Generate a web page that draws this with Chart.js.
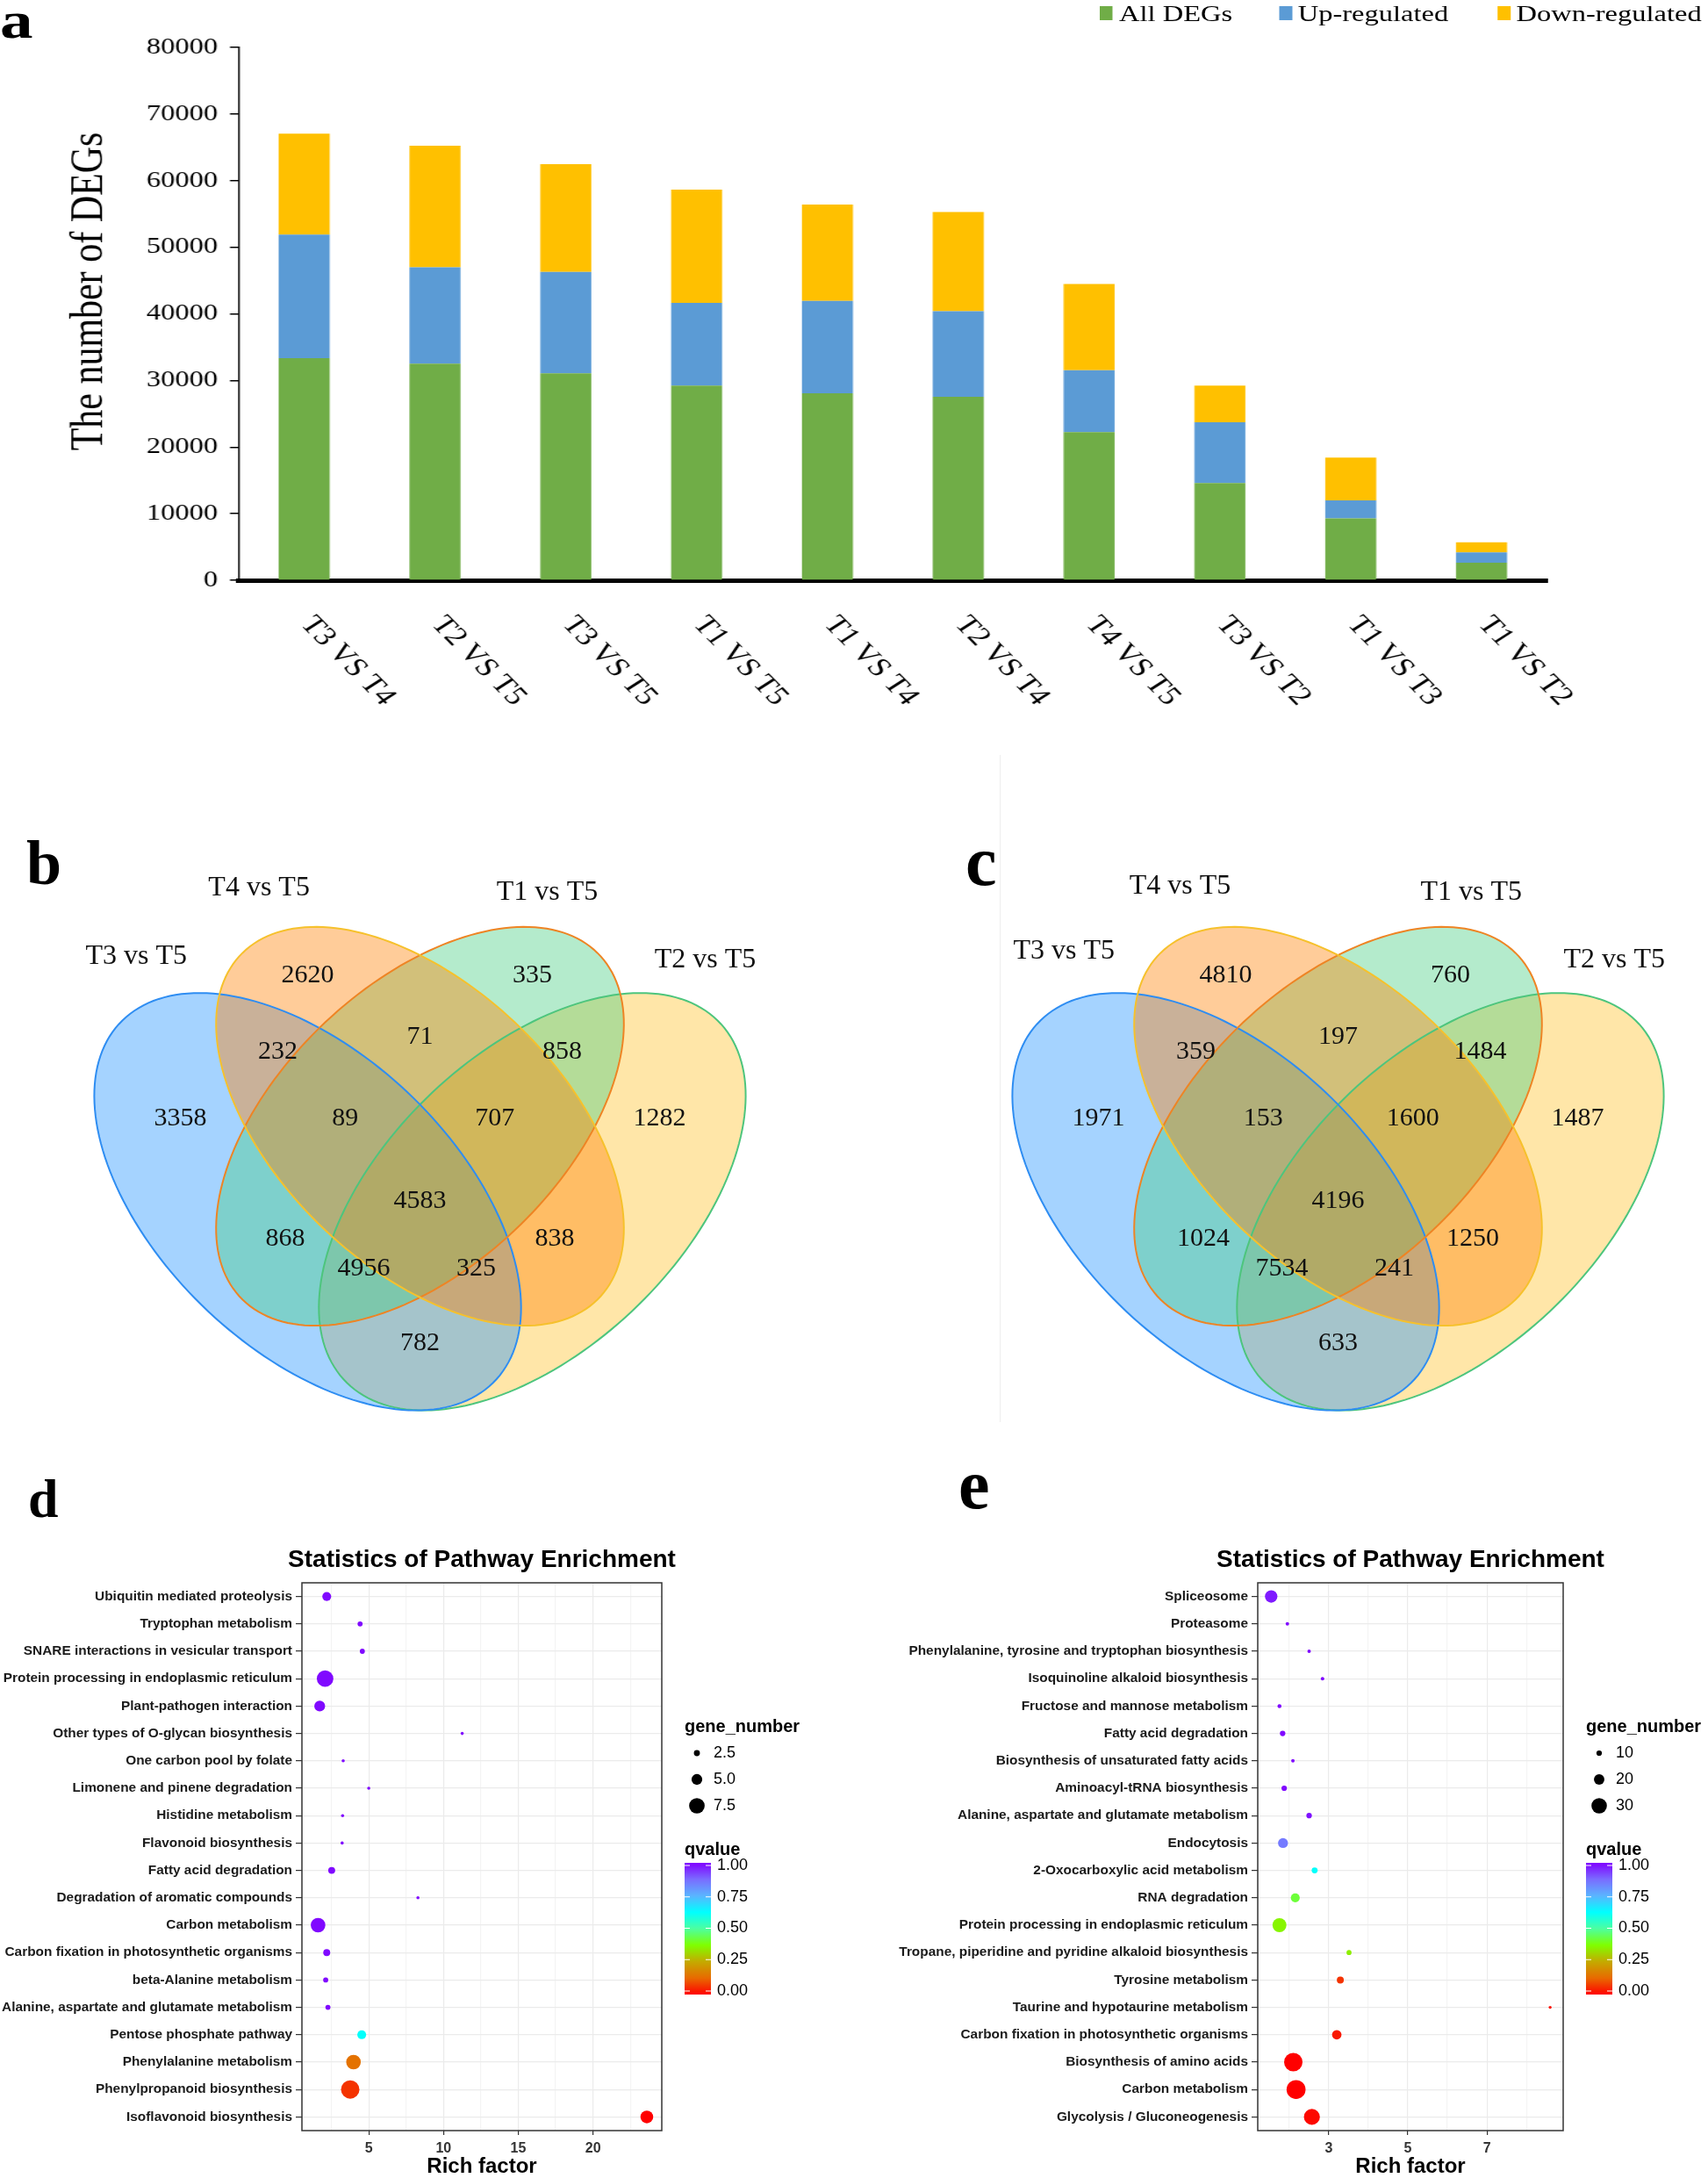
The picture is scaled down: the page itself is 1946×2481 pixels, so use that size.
<!DOCTYPE html>
<html>
<head>
<meta charset="utf-8">
<title>DEGs overview</title>
<script src="https://cdn.jsdelivr.net/npm/chart.js@4.4.0/dist/chart.umd.min.js"></script>
<style>
    body { margin: 0; width: 1946px; height: 2481px; position: relative; overflow: hidden; background: #fff; }
    canvas { position: absolute; }
    .letter { position: absolute; font-family: "Liberation Serif", serif; font-weight: bold; line-height: 1; color: #000; }
    .lg { position: absolute; font-family: "Liberation Serif", serif; font-size: 26px; line-height: 30px; color: #000; white-space: nowrap; }
    .box { position: absolute; width: 12px; height: 16px; }
</style>
</head>
<body>

<!-- panel a is an Excel chart that was stretched sideways, so the whole block is stretched too -->
<div id="panelA" style="position:absolute; left:0; top:0; width:1557px; height:860px; transform:scaleX(1.25); transform-origin:0 0;">
    <canvas id="chartA" width="1557" height="860" style="left:0; top:0"></canvas>
    <div class="letter" style="left:0; top:-7px; font-size:60px">a</div>
    <div class="box" style="left:1002px; top:7px; background:#70AD47"></div>
    <div class="lg" style="left:1020px; top:1px">All DEGs</div>
    <div class="box" style="left:1166px; top:7px; background:#5B9BD5"></div>
    <div class="lg" style="left:1183px; top:1px">Up-regulated</div>
    <div class="box" style="left:1365px; top:7px; background:#FFC000"></div>
    <div class="lg" style="left:1382px; top:1px">Down-regulated</div>
</div>

<div style="position:absolute; left:1139px; top:860px; width:1px; height:760px; background:#eeeeee"></div>

<canvas id="vennB" width="853" height="834" style="left:52px; top:931px"></canvas>
<canvas id="vennC" width="853" height="834" style="left:1098px; top:931px"></canvas>
<div class="letter" style="left:30px; top:947px; font-size:72px">b</div>
<div class="letter" style="left:1100px; top:941px; font-size:80px">c</div>

<canvas id="bubbleD" width="973" height="741" style="left:0; top:1740px"></canvas>
<canvas id="bubbleE" width="973" height="741" style="left:973px; top:1740px"></canvas>
<div class="letter" style="left:32px; top:1676px; font-size:62px">d</div>
<div class="letter" style="left:1092px; top:1651px; font-size:80px">e</div>

<script>
// ---------- panel a: number of DEGs per comparison ----------
const comparisons = ['T3 VS T4', 'T2 VS T5', 'T3 VS T5', 'T1 VS T5', 'T1 VS T4',
                     'T2 VS T4', 'T4 VS T5', 'T3 VS T2', 'T1 VS T3', 'T1 VS T2'];
const allDEGs = [33350, 32530, 31060, 29240, 28060, 27530, 22240, 14590, 9290, 2650];
const upRegulated = [18530, 14470, 15240, 12410, 13880, 12880, 9290, 9120, 2710, 1530];
const downRegulated = [15180, 18240, 16180, 17000, 14470, 14880, 12940, 5530, 6410, 1530];
const degTicks = [0, 10000, 20000, 30000, 40000, 50000, 60000, 70000, 80000];

// ---------- panels b, c: Venn counts ----------
const vennSets = ['T3 vs T5', 'T4 vs T5', 'T1 vs T5', 'T2 vs T5'];
const vennRegions = ['T3', 'T4', 'T1', 'T2', 'T3+T4', 'T4+T1', 'T1+T2', 'T3+T4+T1', 'T4+T1+T2',
                     'T3+T4+T1+T2', 'T3+T1', 'T4+T2', 'T3+T1+T2', 'T3+T4+T2', 'T3+T2'];
const vennCountsB = [3358, 2620, 335, 1282, 232, 71, 858, 89, 707, 4583, 868, 838, 4956, 325, 782];
const vennCountsC = [1971, 4810, 760, 1487, 359, 197, 1484, 153, 1600, 4196, 1024, 1250, 7534, 241, 633];

// ---------- panel d: KEGG enrichment ----------
const pathwaysD = ['Ubiquitin mediated proteolysis', 'Tryptophan metabolism', 'SNARE interactions in vesicular transport',
    'Protein processing in endoplasmic reticulum', 'Plant-pathogen interaction', 'Other types of O-glycan biosynthesis',
    'One carbon pool by folate', 'Limonene and pinene degradation', 'Histidine metabolism', 'Flavonoid biosynthesis',
    'Fatty acid degradation', 'Degradation of aromatic compounds', 'Carbon metabolism',
    'Carbon fixation in photosynthetic organisms', 'beta-Alanine metabolism',
    'Alanine, aspartate and glutamate metabolism', 'Pentose phosphate pathway', 'Phenylalanine metabolism',
    'Phenylpropanoid biosynthesis', 'Isoflavonoid biosynthesis'];
const richD = [2.19, 4.42, 4.57, 2.08, 1.72, 11.25, 3.29, 5.0, 3.25, 3.22, 2.52, 8.29, 1.61, 2.19, 2.12, 2.27, 4.53, 3.98, 3.76, 23.6];
const genesD = [4, 2, 2, 8, 5, 1, 1, 1, 1, 1, 3, 1, 7, 3, 2, 2, 4, 7, 9, 6];
const qvalueD = [0.99, 0.99, 0.99, 0.99, 0.99, 0.99, 0.99, 0.99, 0.99, 0.99, 0.99, 0.99, 0.99, 0.99, 0.99, 0.99, 0.62, 0.14, 0.06, 0.0];
const richTicksD = [5, 10, 15, 20];
const geneLegendD = [2.5, 5.0, 7.5];

// ---------- panel e ----------
const pathwaysE = ['Spliceosome', 'Proteasome', 'Phenylalanine, tyrosine and tryptophan biosynthesis',
    'Isoquinoline alkaloid biosynthesis', 'Fructose and mannose metabolism', 'Fatty acid degradation',
    'Biosynthesis of unsaturated fatty acids', 'Aminoacyl-tRNA biosynthesis',
    'Alanine, aspartate and glutamate metabolism', 'Endocytosis', '2-Oxocarboxylic acid metabolism',
    'RNA degradation', 'Protein processing in endoplasmic reticulum',
    'Tropane, piperidine and pyridine alkaloid biosynthesis', 'Tyrosine metabolism',
    'Taurine and hypotaurine metabolism', 'Carbon fixation in photosynthetic organisms',
    'Biosynthesis of amino acids', 'Carbon metabolism', 'Glycolysis / Gluconeogenesis'];
const richE = [1.54, 1.95, 2.50, 2.84, 1.75, 1.83, 2.09, 1.87, 2.50, 1.84, 2.64, 2.15, 1.75, 3.51, 3.29, 8.6, 3.20, 2.10, 2.17, 2.57];
const genesE = [24, 6, 6, 6, 7, 10, 6, 10, 10, 19, 11, 17, 27, 9, 13, 5, 18, 36, 37, 31];
const qvalueE = [0.97, 0.99, 0.99, 0.99, 0.99, 0.99, 0.99, 0.99, 0.98, 0.85, 0.62, 0.42, 0.36, 0.35, 0.06, 0.02, 0.03, 0.0, 0.0, 0.01];
const richTicksE = [3, 5, 7];
const geneLegendE = [10, 20, 30];
const qTicks = [0, 0.25, 0.5, 0.75, 1];

Chart.defaults.font.family = '"Liberation Sans", Arial, sans-serif';
Chart.defaults.animation = false;

// ================= panel a =================
const stretchA = 1.25;
const aLabels = {
    id: 'aLabels',
    afterDraw(chart) {
        const ctx = chart.ctx;
        const xs = chart.scales.x;
        const area = chart.chartArea;
        ctx.save();
        ctx.fillStyle = '#000';
        // rotated category labels, reading downwards from each bar
        ctx.font = '30px "Liberation Serif"';
        ctx.textAlign = 'left';
        ctx.textBaseline = 'middle';
        comparisons.forEach((lab, i) => {
            ctx.save();
            ctx.translate(xs.getPixelForValue(i) + 2, area.bottom + 45);
            ctx.rotate(Math.atan(stretchA));
            ctx.fillText(lab, 0, 0);
            ctx.restore();
        });
        // y title
        ctx.font = '42px "Liberation Serif"';
        ctx.textAlign = 'center';
        ctx.translate(82, 332);
        ctx.rotate(-Math.PI / 2);
        ctx.fillText('The number of DEGs', 0, 0);
        ctx.restore();
    }
};

new Chart(document.getElementById('chartA'), {
    type: 'bar',
    data: {
        labels: comparisons,
        datasets: [
            { label: 'All DEGs', data: allDEGs, backgroundColor: '#70AD47' },
            { label: 'Up-regulated', data: upRegulated, backgroundColor: '#5B9BD5' },
            { label: 'Down-regulated', data: downRegulated, backgroundColor: '#FFC000' }
        ]
    },
    options: {
        responsive: false,
        layout: { padding: { left: 0, right: 147, top: 54, bottom: 0 } },
        datasets: { bar: { barPercentage: 0.39, categoryPercentage: 1.0, borderWidth: 0 } },
        plugins: { legend: { display: false }, tooltip: { enabled: false } },
        scales: {
            x: {
                stacked: true,
                afterFit: (s) => { s.height = 199; },
                ticks: { display: false },
                grid: { display: false },
                border: { color: '#000', width: 5 }
            },
            y: {
                stacked: true,
                min: 0,
                max: 80000,
                afterFit: (s) => { s.width = 217.6; },
                afterBuildTicks: (s) => { s.ticks = degTicks.map(v => ({ value: v })); },
                ticks: {
                    font: { family: '"Liberation Serif"', size: 26 }, color: '#000', padding: 11,
                    callback: (v) => String(v)
                },
                grid: { display: true, drawOnChartArea: false, drawTicks: true, tickLength: 8, color: '#000', lineWidth: 1.5 },
                border: { color: '#000', width: 1.5 }
            }
        }
    },
    plugins: [aLabels]
});

// ================= panels b and c =================
// ellipse geometry in the 0..1 Venn space; painted in this order (T2, T3, T1, T4)
const vennShapes = [
    { set: 3, cx: 0.65, cy: 0.475, a: 0.35, b: 0.20, rot: 45, fill: 'rgba(255,193,37,0.4)', stroke: '#4DC57D' },
    { set: 0, cx: 0.35, cy: 0.475, a: 0.35, b: 0.20, rot: 135, fill: 'rgba(30,144,255,0.4)', stroke: '#2E8DF2' },
    { set: 2, cx: 0.50, cy: 0.578, a: 0.335, b: 0.19, rot: 45, fill: 'rgba(67,205,128,0.4)', stroke: '#EE8424' },
    { set: 1, cx: 0.50, cy: 0.578, a: 0.335, b: 0.19, rot: 135, fill: 'rgba(255,127,0,0.4)', stroke: '#F6C12C' }
];
const regionSpots = {
    'T3': [0.18, 0.588], 'T4': [0.35, 0.784], 'T1': [0.65, 0.784], 'T2': [0.82, 0.588],
    'T3+T4': [0.31, 0.68], 'T4+T1': [0.5, 0.70], 'T1+T2': [0.69, 0.68],
    'T3+T4+T1': [0.40, 0.588], 'T4+T1+T2': [0.60, 0.588], 'T3+T4+T1+T2': [0.5, 0.476],
    'T3+T1': [0.32, 0.424], 'T4+T2': [0.68, 0.424], 'T3+T1+T2': [0.425, 0.384],
    'T3+T4+T2': [0.575, 0.384], 'T3+T2': [0.5, 0.282]
};
const setSpotsB = [[0.121, 0.81], [0.285, 0.903], [0.670, 0.897], [0.881, 0.805]];
const setSpotsC = [[0.134, 0.817], [0.289, 0.906], [0.678, 0.897], [0.869, 0.805]];

function ellipsePath(ctx, xs, ys, e) {
    const r = e.rot * Math.PI / 180;
    ctx.beginPath();
    for (let k = 0; k <= 180; k++) {
        const t = k / 180 * 2 * Math.PI;
        const x = e.cx + e.a * Math.cos(t) * Math.cos(r) - e.b * Math.sin(t) * Math.sin(r);
        const y = e.cy + e.a * Math.cos(t) * Math.sin(r) + e.b * Math.sin(t) * Math.cos(r);
        const px = xs.getPixelForValue(x), py = ys.getPixelForValue(y);
        if (k === 0) ctx.moveTo(px, py); else ctx.lineTo(px, py);
    }
    ctx.closePath();
}

function vennChart(id, counts, setSpots) {
    const venn = {
        id: 'venn',
        beforeDatasetsDraw(chart) {
            const ctx = chart.ctx, xs = chart.scales.x, ys = chart.scales.y;
            ctx.save();
            vennShapes.forEach(e => { ellipsePath(ctx, xs, ys, e); ctx.fillStyle = e.fill; ctx.fill(); });
            ctx.lineWidth = 2;
            vennShapes.forEach(e => { ellipsePath(ctx, xs, ys, e); ctx.strokeStyle = e.stroke; ctx.stroke(); });
            ctx.restore();
        },
        afterDatasetsDraw(chart) {
            const ctx = chart.ctx, xs = chart.scales.x, ys = chart.scales.y;
            ctx.save();
            ctx.fillStyle = '#111';
            ctx.textAlign = 'center';
            ctx.textBaseline = 'middle';
            ctx.font = '30px "Liberation Serif"';
            chart.getDatasetMeta(0).data.forEach((pt, i) => { ctx.fillText(String(counts[i]), pt.x, pt.y); });
            ctx.font = '32px "Liberation Serif"';
            vennSets.forEach((name, i) => {
                ctx.fillText(name, xs.getPixelForValue(setSpots[i][0]), ys.getPixelForValue(setSpots[i][1]));
            });
            ctx.restore();
        }
    };
    new Chart(document.getElementById(id), {
        type: 'scatter',
        data: {
            datasets: [{
                data: vennRegions.map(k => ({ x: regionSpots[k][0], y: regionSpots[k][1] })),
                pointRadius: 0
            }]
        },
        options: {
            responsive: false,
            layout: { padding: 0 },
            plugins: { legend: { display: false }, tooltip: { enabled: false } },
            scales: {
                x: { type: 'linear', min: 0, max: 1, display: false },
                y: { type: 'linear', min: 0, max: 1, display: false }
            }
        },
        plugins: [venn]
    });
}

vennChart('vennB', vennCountsB, setSpotsB);
vennChart('vennC', vennCountsC, setSpotsC);

// ================= panels d and e =================
const qStops = [
    [0.0, [255, 0, 0]], [0.125, [232, 106, 0]], [0.25, [196, 170, 0]], [0.375, [127, 255, 0]],
    [0.5, [76, 255, 160]], [0.625, [0, 255, 255]], [0.75, [90, 180, 255]], [0.875, [122, 108, 255]],
    [1.0, [128, 0, 255]]
];
function qColor(q) {
    for (let i = 1; i < qStops.length; i++) {
        if (q <= qStops[i][0]) {
            const [q0, c0] = qStops[i - 1], [q1, c1] = qStops[i];
            const f = (q - q0) / (q1 - q0);
            const c = c0.map((v, k) => Math.round(v + (c1[k] - v) * f));
            return `rgb(${c[0]},${c[1]},${c[2]})`;
        }
    }
    return 'rgb(128,0,255)';
}

function bubbleChart(id, labels, rich, genes, q, opt) {
    const sizeR = v => opt.rLo + (opt.rHi - opt.rLo) * (v - opt.gLo) / (opt.gHi - opt.gLo);
    const isMajor = v => opt.xLabels.includes(v);

    const extras = {
        id: 'extras',
        afterDraw(chart) {
            const ctx = chart.ctx, area = chart.chartArea;
            ctx.save();
            // panel frame
            ctx.strokeStyle = '#333';
            ctx.lineWidth = 1.5;
            ctx.strokeRect(area.left, area.top, area.right - area.left, area.bottom - area.top);
            // titles
            ctx.fillStyle = '#000';
            ctx.textAlign = 'center';
            ctx.textBaseline = 'middle';
            ctx.font = 'bold 28px "Liberation Sans"';
            ctx.fillText('Statistics of Pathway Enrichment', (area.left + area.right) / 2, 37);
            ctx.font = 'bold 24px "Liberation Sans"';
            ctx.fillText('Rich factor', (area.left + area.right) / 2, 728);

            // size legend
            const L = opt.legend;
            ctx.textAlign = 'left';
            ctx.font = 'bold 20px "Liberation Sans"';
            ctx.fillText('gene_number', L.x, 227);
            ctx.font = '18px "Liberation Sans"';
            opt.geneLegend.forEach((v, i) => {
                const y = 257 + i * 30;
                ctx.beginPath();
                ctx.arc(L.dot, y, sizeR(v), 0, 2 * Math.PI);
                ctx.fill();
                ctx.fillText(opt.geneFmt(v), L.text, y);
            });

            // colour bar
            ctx.font = 'bold 20px "Liberation Sans"';
            ctx.fillText('qvalue', L.x, 367);
            const yOf = v => 528 - v * (528 - 385);
            const grad = ctx.createLinearGradient(0, 532, 0, 382);
            qStops.forEach(s => grad.addColorStop(s[0], qColor(s[0])));
            ctx.fillStyle = grad;
            ctx.fillRect(L.x, 382, 30, 150);
            ctx.strokeStyle = '#fff';
            ctx.lineWidth = 1;
            ctx.fillStyle = '#000';
            ctx.font = '18px "Liberation Sans"';
            qTicks.forEach(v => {
                const y = yOf(v);
                ctx.beginPath();
                ctx.moveTo(L.x, y); ctx.lineTo(L.x + 6, y);
                ctx.moveTo(L.x + 24, y); ctx.lineTo(L.x + 30, y);
                ctx.stroke();
                ctx.fillText(v.toFixed(2), L.label, y);
            });
            ctx.restore();
        }
    };

    new Chart(document.getElementById(id), {
        type: 'bubble',
        data: {
            labels: labels,
            datasets: [{
                data: labels.map((lab, i) => ({ x: rich[i], y: lab, r: sizeR(genes[i]) })),
                backgroundColor: q.map(qColor),
                borderWidth: 0,
                hoverBorderWidth: 0
            }]
        },
        options: {
            responsive: false,
            layout: { padding: { left: 0, right: opt.padRight, top: 63, bottom: 0 } },
            plugins: { legend: { display: false }, tooltip: { enabled: false } },
            scales: {
                x: {
                    type: 'linear',
                    min: opt.xMin,
                    max: opt.xMax,
                    afterFit: (s) => { s.height = 54; },
                    ticks: {
                        stepSize: opt.step, includeBounds: false, autoSkip: false, maxRotation: 0,
                        font: { size: 16, weight: 'bold' }, color: '#333', padding: 6,
                        callback: (v) => isMajor(v) ? String(v) : ''
                    },
                    grid: {
                        color: (c) => isMajor(c.tick.value) ? '#EBEBEB' : '#F4F4F4',
                        lineWidth: 1.2, tickLength: 5,
                        tickColor: (c) => isMajor(c.tick.value) ? '#333' : 'rgba(0,0,0,0)'
                    },
                    border: { display: false }
                },
                y: {
                    type: 'category',
                    labels: labels,
                    offset: true,
                    afterFit: (s) => { s.width = opt.axisLeft; },
                    ticks: { autoSkip: false, font: { size: 15.4, weight: 'bold' }, color: '#1a1a1a', padding: 4 },
                    grid: { offset: false, color: '#EBEBEB', lineWidth: 1.2, tickLength: 7, tickColor: '#333' },
                    border: { display: false }
                }
            }
        },
        plugins: [extras]
    });
}

bubbleChart('bubbleD', pathwaysD, richD, genesD, qvalueD, {
    xMin: 0.53, xMax: 24.6, step: 2.5, xLabels: richTicksD,
    axisLeft: 344, padRight: 219,
    gLo: 1, gHi: 9, rLo: 1.8, rHi: 10.5,
    geneLegend: geneLegendD, geneFmt: (v) => v.toFixed(1),
    legend: { x: 780, dot: 794, text: 813, label: 817 }
});

bubbleChart('bubbleE', pathwaysE, richE, genesE, qvalueE, {
    xMin: 1.2, xMax: 8.93, step: 1, xLabels: richTicksE,
    axisLeft: 460, padRight: 165,
    gLo: 5, gHi: 37, rLo: 1.7, rHi: 10.8,
    geneLegend: geneLegendE, geneFmt: (v) => String(v),
    legend: { x: 834, dot: 849, text: 868, label: 871 }
});
</script>
</body>
</html>
